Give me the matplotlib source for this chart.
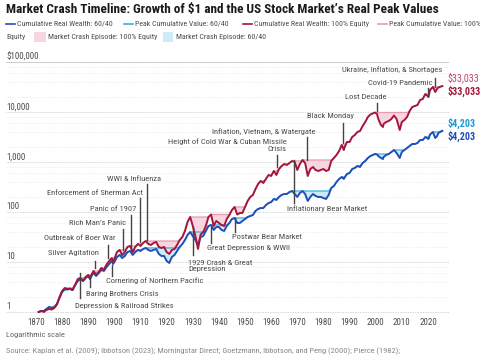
import matplotlib
matplotlib.use('Agg')
import matplotlib.pyplot as plt
import numpy as np
from matplotlib.lines import Line2D
from matplotlib.patches import Rectangle
from matplotlib.ticker import LogLocator, NullFormatter
from matplotlib import font_manager
import matplotlib.transforms as mtransforms

# pick a condensed sans if one is installed
_entries = font_manager.fontManager.ttflist
_cands = []
for f in _entries:
    st = str(f.stretch).lower()
    if ('condensed' in f.name.lower() or 'narrow' in f.name.lower()
            or (isinstance(f.stretch, str) and 'condensed' in st)
            or (isinstance(f.stretch, int) and f.stretch < 500)):
        _cands.append((f.name, f.stretch, f.weight))
FONT = 'Liberation Sans'
STRETCH = 'normal'
for pref in ['Roboto Condensed', 'Liberation Sans Narrow', 'Archivo Narrow',
             'Asap Condensed', 'Open Sans Condensed']:
    m = [c for c in _cands if c[0] == pref]
    if m:
        FONT = pref
        STRETCH = m[0][1]
        break
plt.rcParams['font.family'] = [FONT, 'DejaVu Sans']
plt.rcParams['font.stretch'] = STRETCH

# ---------------- data ----------------
years = [1871, 1872, 1873, 1874, 1875, 1876, 1877, 1878, 1879, 1880,
         1881, 1882, 1883, 1884, 1885, 1886, 1887, 1888, 1889, 1890,
         1890.7, 1891, 1892, 1893, 1894, 1895, 1896, 1897, 1898, 1899,
         1899.5, 1900, 1901, 1902, 1903, 1904, 1905, 1906, 1907, 1908,
         1909, 1910, 1911, 1912, 1913, 1914, 1915, 1916, 1917, 1918,
         1919, 1920, 1921, 1922, 1923, 1924, 1925, 1926, 1927, 1928,
         1929, 1930, 1931, 1932, 1933, 1934, 1935, 1936, 1937, 1938,
         1939, 1940, 1941, 1942, 1943, 1944, 1945, 1946, 1947, 1948,
         1949, 1950, 1951, 1952, 1953, 1954, 1955, 1956, 1957, 1958,
         1959, 1960, 1961, 1962, 1963, 1964, 1965, 1966, 1967, 1968,
         1969, 1970, 1971, 1972, 1973, 1974, 1975, 1976, 1977, 1978,
         1979, 1980, 1981, 1982, 1983, 1984, 1985, 1986, 1987, 1987.8,
         1988, 1989, 1990, 1991, 1992, 1993, 1994, 1995, 1996, 1997,
         1998, 1999.7, 2000.5, 2001, 2002, 2002.8, 2003, 2004, 2005, 2006,
         2007, 2008, 2009.2, 2010, 2011, 2012, 2013, 2014, 2015, 2016,
         2017, 2018, 2019, 2020.2, 2020.8, 2021.9, 2022.8, 2023.5, 2024, 2025.5]

equity = [1.0, 1.05, 1.0, 1.10, 1.15, 1.12, 1.20, 1.41, 2.0, 2.63,
          3.02, 2.88, 2.95, 2.75, 3.55, 4.57, 4.79, 4.17, 5.01, 5.50,
          4.57, 5.25, 6.61, 5.50, 6.31, 7.59, 6.92, 8.91, 10.5, 12.0,
          10.0, 11.5, 15.8, 17.4, 13.8, 15.8, 20.0, 20.9, 15.8, 20.0,
          22.9, 20.9, 24.0, 26.3, 22.9, 21.9, 24.0, 25.1, 20.0, 19.1,
          20.0, 15.8, 14.5, 17.4, 18.2, 21.9, 27.5, 31.6, 41.7, 63.1,
          79.4, 52.5, 33.1, 18.2, 35.5, 39.8, 52.5, 79.4, 89.1, 52.5,
          66.1, 60.3, 55.0, 52.5, 72.4, 87.1, 110, 126, 89.1, 95.5,
          95.5, 126, 166, 200, 219, 288, 363, 417, 380, 457,
          550, 525, 661, 550, 724, 832, 912, 871, 955, 1047,
          1000, 692, 912, 1096, 955, 525, 724, 794, 692, 661,
          692, 724, 661, 692, 1047, 1202, 1380, 1660, 2188, 1738,
          1905, 2512, 2512, 3162, 3467, 3981, 4169, 5248, 6310, 7943,
          8913, 9772, 9120, 7244, 5495, 5012, 5754, 6310, 6607, 7244,
          8511, 7244, 4365, 6310, 6918, 7943, 10471, 12589, 13183, 13804,
          17378, 18197, 22909, 19953, 27542, 31623, 25119, 28840, 31000, 33033]

balanced = [1.0, 1.05, 1.05, 1.15, 1.26, 1.20, 1.26, 1.45, 1.91, 2.51,
            2.82, 2.82, 2.88, 2.75, 3.47, 4.17, 4.57, 4.17, 4.79, 5.25,
            4.57, 5.01, 6.03, 5.25, 6.03, 6.92, 6.61, 7.94, 9.12, 10.5,
            9.12, 10.0, 12.6, 13.8, 12.0, 13.2, 15.8, 16.6, 13.8, 15.8,
            17.4, 16.6, 18.2, 19.1, 17.4, 16.6, 17.4, 18.2, 14.5, 13.2,
            13.2, 10.5, 9.55, 12.6, 13.8, 16.6, 20.0, 22.9, 27.5, 34.7,
            39.8, 33.1, 27.5, 21.9, 31.6, 33.1, 41.7, 52.5, 55.0, 43.7,
            50.1, 50.1, 43.7, 41.7, 52.5, 60.3, 72.4, 75.9, 60.3, 60.3,
            66.1, 72.4, 79.4, 83.2, 87.1, 105, 115, 120, 120, 138,
            151, 158, 182, 174, 200, 219, 229, 229, 251, 263,
            229, 200, 240, 263, 229, 166, 200, 229, 209, 200,
            200, 191, 182, 219, 302, 331, 398, 457, 501, 457,
            479, 575, 603, 724, 759, 832, 794, 955, 1047, 1202,
            1318, 1445, 1413, 1318, 1202, 1148, 1259, 1380, 1445, 1585,
            1738, 1514, 1202, 1585, 1738, 1905, 2089, 2291, 2291, 2399,
            2754, 2754, 3162, 2884, 3548, 3981, 3020, 3311, 3802, 4203]

ytick_vals = [1, 10, 100, 1000, 10000, 100000]
ytick_labels = ['1', '10', '100', '1,000', '10,000', '$100,000']
xtick_vals = list(range(1870, 2021, 10))

annotations = [
    # label, text x px, text y px, ha, leader x px, leader y0 px, leader y1 px
    ("Depression & Railroad Strikes", 75, 306, 'left', 80, 273, 298),
    ("Baring Brothers Crisis", 86, 294, 'left', 90, 276, 287),
    ("Cornering of Northern Pacific", 106, 281, 'left', 112, 265, 276),
    ("Silver Agitation", 99, 253, 'right', 95, 261, 268),
    ("Outbreak of Boer War", 116, 238, 'right', 108, 245, 258),
    ("Rich Man\u2019s Panic", 126, 223, 'right', 123, 229, 250),
    ("Panic of 1907", 136, 209, 'right', 131, 215, 248),
    ("Enforcement of Sherman Act", 143, 193, 'right', 140, 198, 242),
    ("WWI & Influenza", 107, 179, 'left', 147, 184, 240),
    ("1929 Crash & Great\nDepression", 188, 266, 'left', 193, 227, 255),
    ("Great Depression & WWII", 207, 248, 'left', 211, 227, 243),
    ("Postwar Bear Market", 232, 237, 'left', 235, 218, 232),
    ("Height of Cold War & Cuban Missile\nCrisis", 287, 145, 'right', 277, 155, 167),
    ("Inflation, Vietnam, & Watergate", 315, 132, 'right', 307, 137, 160),
    ("Inflationary Bear Market", 287, 209, 'left', 294, 160, 203),
    ("Black Monday", 354, 116, 'right', 343, 123, 143),
    ("Lost Decade", 387, 97, 'right', 377, 103, 111),
    ("Covid-19 Pandemic", 432, 83, 'right', 428, 88, 96),
    ("Ukraine, Inflation, & Shortages", 442, 70, 'right', 435, 78, 87),
]

# ---------------- style ----------------
C_EQ = '#a3173b'
C_EQ_PEAK = '#e89ab2'
C_EQ_FILL = '#f7d6e1'
C_EQ_LBL = '#c2416a'
C_BAL = '#1f4fb8'
C_BAL_PEAK = '#3bb0e3'
C_BAL_FILL = '#cdeaf7'
C_BAL_LBL = '#1a9ad6'
C_TXT = '#4d4d4d'

W, H = 480, 356
fig = plt.figure(figsize=(W / 100, H / 100), dpi=100)


def fx(x):
    return x / W


def fy(y):
    return 1 - y / H


ax = fig.add_axes([fx(6), fy(317), fx(449) - fx(6), fy(62) - fy(317)])
ax.set_yscale('log')
ax.set_ylim(10 ** -0.1, 1e5)
ax.set_xlim(1870 - 30 / 2.613, 1870 + 413 / 2.613)
for s in ax.spines.values():
    s.set_visible(False)

yrs = np.array(years, dtype=float)
eq = np.array(equity, dtype=float)
bal = np.array(balanced, dtype=float)
eq_peak = np.maximum.accumulate(eq)
bal_peak = np.maximum.accumulate(bal)

ax.fill_between(yrs, bal, bal_peak, where=bal < bal_peak, interpolate=True,
                color=C_BAL_FILL, lw=0, zorder=1)
ax.fill_between(yrs, eq, eq_peak, where=eq < eq_peak, interpolate=True,
                color=C_EQ_FILL, lw=0, zorder=1)
ax.plot(yrs, bal_peak, color=C_BAL_PEAK, lw=0.9, zorder=2)
ax.plot(yrs, eq_peak, color=C_EQ_PEAK, lw=0.9, zorder=2)
ax.plot(yrs, bal, color=C_BAL, lw=1.4, zorder=3)
ax.plot(yrs, eq, color=C_EQ, lw=1.4, zorder=4)

ax.set_yticks(ytick_vals)
ax.yaxis.set_minor_locator(LogLocator(base=10, subs=(2, 4, 6, 8)))
ax.yaxis.set_minor_formatter(NullFormatter())
ax.set_yticklabels([])
ax.tick_params(axis='y', which='both', length=0)
ax.grid(axis='y', which='major', color='#c8c8c8', lw=0.6, linestyle=(0, (1, 1)))
ax.grid(axis='y', which='minor', color='#e2e2e2', lw=0.5, linestyle=(0, (1, 1.5)))
ax.axhline(ytick_vals[-1], color='#cfcfcf', lw=0.7, zorder=0)
ax.set_axisbelow(True)

trans = mtransforms.blended_transform_factory(ax.transAxes, ax.transData)
for v, lab in zip(ytick_vals, ytick_labels):
    ax.text(0, v * 1.03, lab, transform=trans, ha='left', va='bottom',
            fontsize=6.5, color=C_TXT)

ax.set_xticks(xtick_vals)
ax.set_xticklabels([str(v) for v in xtick_vals])
ax.tick_params(axis='x', length=0, pad=1, labelsize=6.5, labelcolor=C_TXT)

# annotations
for lab, tx, ty, ha, lx, ly0, ly1 in annotations:
    fig.text(fx(tx), fy(ty), lab, ha=ha, va='center', fontsize=6.1,
             color=C_TXT, linespacing=1.1)
    fig.add_artist(Line2D([fx(lx), fx(lx)], [fy(ly0), fy(ly1)],
                          color='#444444', lw=1.0))

# end labels
END_FS = 7.2
fig.text(fx(447), fy(78), '$33,033', color=C_EQ_LBL, fontsize=END_FS, va='center')
fig.text(fx(447), fy(91), '$33,033', color=C_EQ, fontsize=END_FS, va='center',
         fontweight='bold')
fig.text(fx(447), fy(123), '$4,203', color=C_BAL_LBL, fontsize=END_FS, va='center',
         fontweight='bold')
fig.text(fx(447), fy(136), '$4,203', color=C_BAL, fontsize=END_FS, va='center',
         fontweight='bold')

# title
fig.text(fx(6), fy(9), 'Market Crash Timeline: Growth of $1 and the US Stock Market\u2019s Real Peak Values',
         fontsize=9.5, fontweight='bold', color='#1a1a1a', ha='left', va='center')

# legend
LEG_FS = 5.7
row1, row2 = 24, 37
items = [
    (6, C_BAL, 'Cumulative Real Wealth: 60/40'),
    (124, C_BAL_PEAK, 'Peak Cumulative Value: 60/40'),
    (243, C_EQ, 'Cumulative Real Wealth: 100% Equity'),
    (378, C_EQ_PEAK, 'Peak Cumulative Value: 100%'),
]
for x0, col, lab in items:
    fig.add_artist(Line2D([fx(x0), fx(x0 + 9)], [fy(row1), fy(row1)], color=col, lw=1.2))
    fig.text(fx(x0 + 11), fy(row1), lab, fontsize=LEG_FS, color=C_TXT, va='center')
fig.text(fx(6), fy(row2), 'Equity', fontsize=LEG_FS, color=C_TXT, va='center')
fig.add_artist(Rectangle((fx(34), fy(42)), fx(12), 10 / H, color=C_EQ_FILL, lw=0))
fig.text(fx(48), fy(row2), 'Market Crash Episode: 100% Equity', fontsize=LEG_FS,
         color=C_TXT, va='center')
fig.add_artist(Rectangle((fx(163), fy(42)), fx(10), 10 / H, color=C_BAL_FILL, lw=0))
fig.text(fx(176), fy(row2), 'Market Crash Episode: 60/40', fontsize=LEG_FS,
         color=C_TXT, va='center')

# footer
fig.text(fx(6), fy(335), 'Logarithmic scale', fontsize=6, color='#666666', va='center')
fig.text(fx(6), fy(351), 'Source: Kaplan et al. (2009); Ibbotson (2023); Morningstar Direct; '
         'Goetzmann, Ibbotson, and Peng (2000); Pierce (1982);',
         fontsize=6, color='#888888', va='center')

fig.savefig('out.png', dpi=100)
